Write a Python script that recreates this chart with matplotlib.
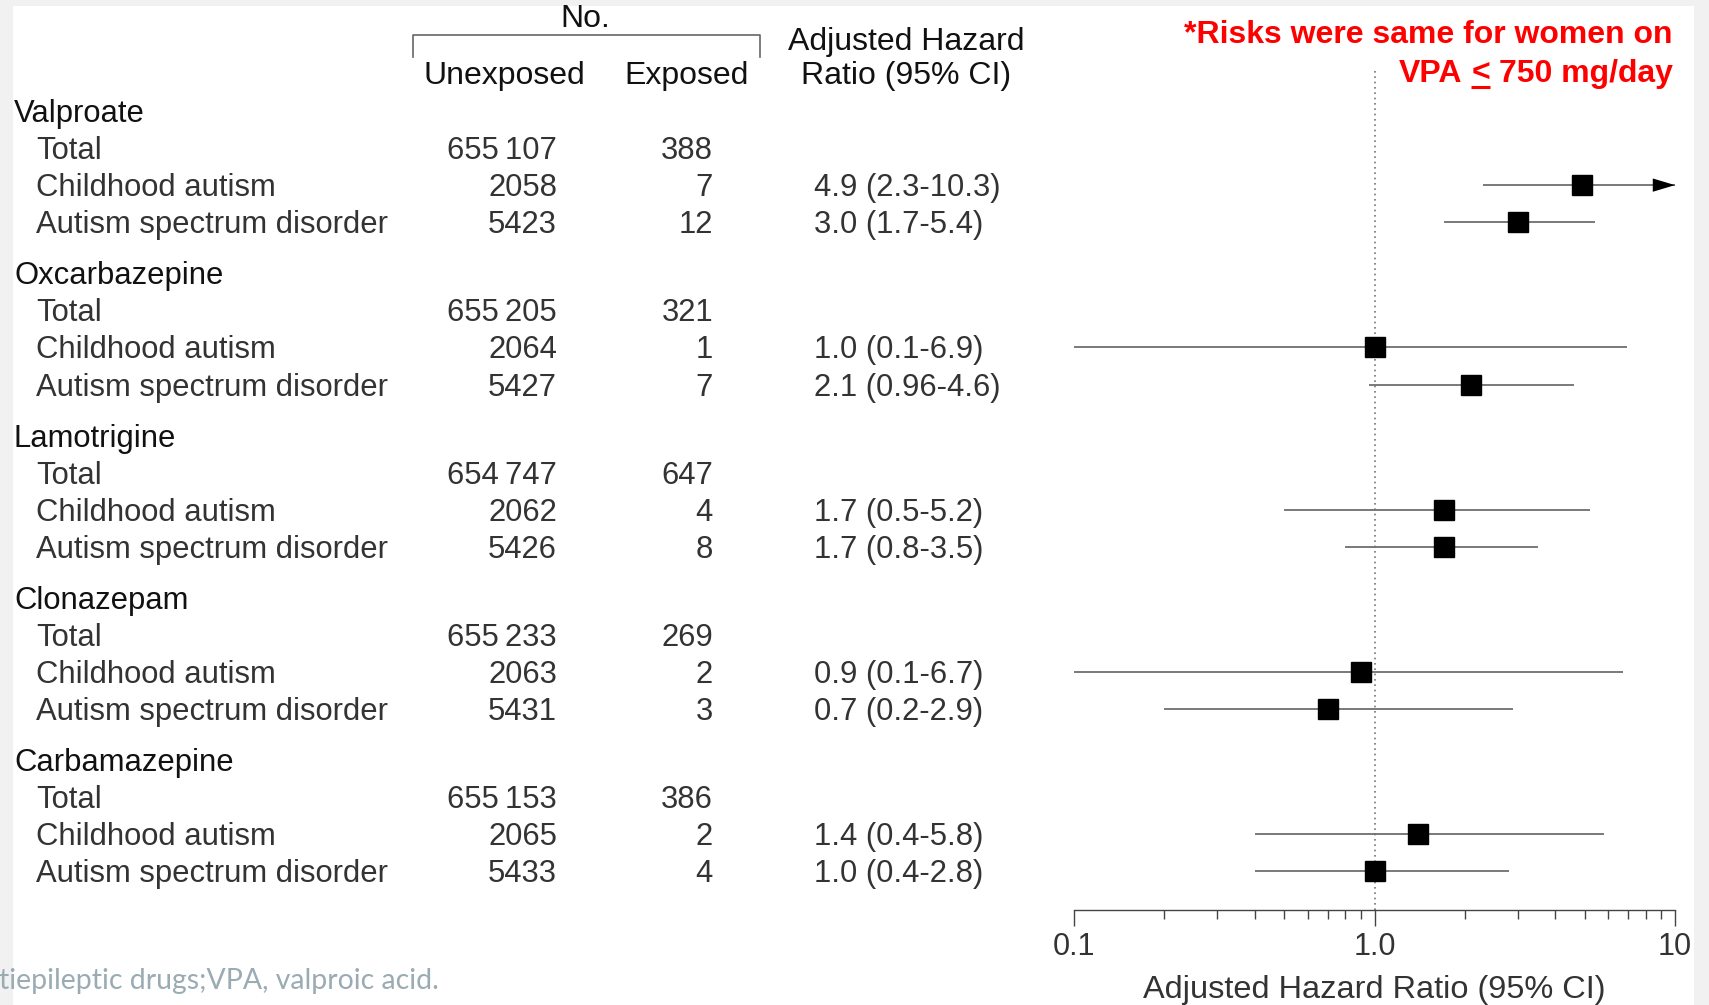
import matplotlib
matplotlib.use('Agg')
import matplotlib.pyplot as plt
import matplotlib.transforms as mtransforms
from matplotlib.patches import Rectangle
from matplotlib.lines import Line2D

# ---------------- data ----------------
drugs = ['Valproate', 'Oxcarbazepine', 'Lamotrigine', 'Clonazepam', 'Carbamazepine']
outcomes = ['Total', 'Childhood autism', 'Autism spectrum disorder']
unexposed = [[655107, 2058, 5423],
             [655205, 2064, 5427],
             [654747, 2062, 5426],
             [655233, 2063, 5431],
             [655153, 2065, 5433]]
exposed = [[388, 7, 12],
           [321, 1, 7],
           [647, 4, 8],
           [269, 2, 3],
           [386, 2, 4]]
hr_labels = [['', '4.9 (2.3-10.3)', '3.0 (1.7-5.4)'],
             ['', '1.0 (0.1-6.9)', '2.1 (0.96-4.6)'],
             ['', '1.7 (0.5-5.2)', '1.7 (0.8-3.5)'],
             ['', '0.9 (0.1-6.7)', '0.7 (0.2-2.9)'],
             ['', '1.4 (0.4-5.8)', '1.0 (0.4-2.8)']]
hr = [[None, 4.9, 3.0], [None, 1.0, 2.1], [None, 1.7, 1.7], [None, 0.9, 0.7], [None, 1.4, 1.0]]
ci_low = [[None, 2.3, 1.7], [None, 0.1, 0.96], [None, 0.5, 0.8], [None, 0.1, 0.2], [None, 0.4, 0.4]]
ci_high = [[None, 10.3, 5.4], [None, 6.9, 4.6], [None, 5.2, 3.5], [None, 6.7, 2.9], [None, 5.8, 2.8]]
x_ticks = [0.1, 1.0, 10]
x_tick_labels = ['0.1', '1.0', '10']
minor_ticks = [0.2, 0.3, 0.4, 0.5, 0.6, 0.7, 0.8, 0.9, 2, 3, 4, 5, 6, 7, 8, 9]

# ---------------- layout helpers ----------------
W, H = 1709, 1005
FONT = ['Liberation Sans', 'DejaVu Sans']
plt.rcParams['font.family'] = FONT

def fx(px):
    return px / W

def fy(py):
    return 1 - py / H

fig = plt.figure(figsize=(W / 100, H / 100), dpi=100)
fig.patch.set_facecolor('#f1f1f1')
fig.add_artist(Rectangle((fx(13), 0), fx(1694) - fx(13), fy(6), transform=fig.transFigure,
                         facecolor='white', edgecolor='none', zorder=0))

ROW = 37.06          # px per row
Y0 = 111             # px of first header
GAP = 4.38           # rows between group headers
TOFF = 3.0 / ROW     # small downward text offset
ax_top, ax_bot = 68, 910
ax = fig.add_axes([fx(1074), fy(ax_bot), fx(1675) - fx(1074), (ax_bot - ax_top) / H])
ax.set_xscale('log')
ax.set_xlim(0.1, 10)
ax.set_ylim((ax_bot - Y0) / ROW, (ax_top - Y0) / ROW)
ax.patch.set_visible(False)
for s in ['top', 'left', 'right']:
    ax.spines[s].set_visible(False)
ax.spines['bottom'].set_color('#444444')
ax.spines['bottom'].set_linewidth(1.0)
ax.set_yticks([])
ax.set_xticks(x_ticks)
ax.set_xticklabels(x_tick_labels)
ax.set_xticks(minor_ticks, minor=True)
ax.set_xticklabels([], minor=True)
ax.tick_params(axis='x', which='major', length=11.5, width=1.0, color='#444444',
               labelsize=22, labelcolor='#333333', pad=4)
ax.tick_params(axis='x', which='minor', length=6.5, width=1.0, color='#444444')
ax.set_xlabel('Adjusted Hazard Ratio (95% CI)', fontsize=23.4, color='#333333', va='top')
ax.xaxis.set_label_coords(0.5, -(975 - ax_bot) / (ax_bot - ax_top))

ax.axvline(1.0, color='#777777', lw=1.2, ls=(0, (1, 2.2)), zorder=1)

trans = mtransforms.blended_transform_factory(fig.transFigure, ax.transData)

def fmt_num(n):
    if n >= 10000:
        return f'{n:,}'.replace(',', '\u2009')
    return str(n)

TXT = '#333333'
FS = 22.3
for g, drug in enumerate(drugs):
    yh = g * GAP
    ax.text(fx(14), yh + TOFF, drug, transform=trans, ha='left', va='center', fontsize=FS,
            color='#111111')
    for k, oc in enumerate(outcomes):
        y = yh + k + 1
        ax.text(fx(36), y + TOFF, oc, transform=trans, ha='left', va='center', fontsize=FS, color=TXT)
        ax.text(fx(557), y + TOFF, fmt_num(unexposed[g][k]), transform=trans, ha='right',
                va='center', fontsize=FS, color=TXT)
        ax.text(fx(713), y + TOFF, fmt_num(exposed[g][k]), transform=trans, ha='right',
                va='center', fontsize=FS, color=TXT)
        if hr_labels[g][k]:
            ax.text(fx(814), y + TOFF, hr_labels[g][k], transform=trans, ha='left', va='center',
                    fontsize=FS, color=TXT)
        if hr[g][k] is not None:
            lo, hi = ci_low[g][k], ci_high[g][k]
            hi_draw = min(hi, 10)
            ax.plot([lo, hi_draw], [y, y], color='#6e6e6e', lw=1.3, solid_capstyle='butt',
                    zorder=2, clip_on=False)
            if hi > 10:
                ax.annotate('', xy=(10, y), xytext=(lo, y),
                            arrowprops=dict(arrowstyle='-|>,head_length=0.8,head_width=0.24',
                                            mutation_scale=20, lw=0, color='black',
                                            shrinkA=0, shrinkB=0), zorder=3)
            ax.plot([hr[g][k]], [y], marker='s', ms=14, color='black', zorder=4, clip_on=False)

# column headers
HFS = 23
fig.text(fx(585), fy(19), 'No.', ha='center', va='center', fontsize=HFS, color='#111111')
fig.add_artist(Line2D([fx(413), fx(413), fx(760), fx(760)], [fy(57), fy(35), fy(35), fy(57)],
                      transform=fig.transFigure, color='#666666', lw=1.2))
fig.text(fx(504), fy(76), 'Unexposed', ha='center', va='center', fontsize=HFS, color='#111111')
fig.text(fx(687), fy(76), 'Exposed', ha='center', va='center', fontsize=HFS, color='#111111')
fig.text(fx(906), fy(42), 'Adjusted Hazard', ha='center', va='center', fontsize=HFS, color='#111111')
fig.text(fx(906), fy(76), 'Ratio (95% CI)', ha='center', va='center', fontsize=HFS, color='#111111')

# red annotation
RFS = 23
red_kw = dict(va='center', fontsize=RFS, fontweight='bold', color='#ff0000')
fig.text(fx(1673), fy(35), '*Risks were same for women on', ha='right', **red_kw)
renderer = fig.canvas.get_renderer()
t3 = fig.text(fx(1673), fy(74), '750 mg/day', ha='right', **red_kw)
bb3 = t3.get_window_extent(renderer=renderer)
sp = 9
t2 = fig.text((bb3.x0 - sp) / W, fy(74), '<', ha='right', **red_kw)
bb2 = t2.get_window_extent(renderer=renderer)
fig.add_artist(Line2D([bb2.x0 / W, bb2.x1 / W], [fy(87.5), fy(87.5)], transform=fig.transFigure,
                      color='#ff0000', lw=2.2, solid_capstyle='butt'))
fig.text((bb2.x0 - sp) / W, fy(74), 'VPA', ha='right', **red_kw)

# footer
fig.text(fx(-1), fy(981), 'tiepileptic drugs;VPA, valproic acid.', ha='left', va='center',
         fontsize=20.4, color='#9aabb4', family=['Lato', 'DejaVu Sans'])

fig.savefig('out.png', dpi=100, facecolor=fig.get_facecolor())
